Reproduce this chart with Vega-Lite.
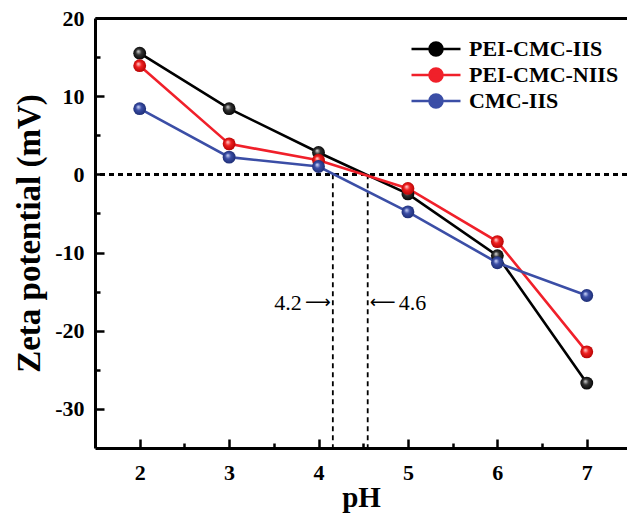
{
  "$schema": "https://vega.github.io/schema/vega-lite/v6.json",
  "width": 532,
  "height": 430,
  "autosize": "none",
  "padding": {"left": 95, "top": 18, "right": 0, "bottom": 69},
  "background": "white",
  "config": {
    "view": {"stroke": null},
    "font": "Liberation Serif",
    "axis": {"grid": false, "domainColor": "black", "labelColor": "black", "titleColor": "black"}
  },
  "datasets": {
    "zeta": [
      {"pH": 2, "zeta": 15.5, "sample": "PEI-CMC-IIS"},
      {"pH": 3, "zeta": 8.4, "sample": "PEI-CMC-IIS"},
      {"pH": 4, "zeta": 2.8, "sample": "PEI-CMC-IIS"},
      {"pH": 5, "zeta": -2.5, "sample": "PEI-CMC-IIS"},
      {"pH": 6, "zeta": -10.4, "sample": "PEI-CMC-IIS"},
      {"pH": 7, "zeta": -26.7, "sample": "PEI-CMC-IIS"},
      {"pH": 2, "zeta": 13.9, "sample": "PEI-CMC-NIIS"},
      {"pH": 3, "zeta": 3.9, "sample": "PEI-CMC-NIIS"},
      {"pH": 4, "zeta": 1.8, "sample": "PEI-CMC-NIIS"},
      {"pH": 5, "zeta": -1.8, "sample": "PEI-CMC-NIIS"},
      {"pH": 6, "zeta": -8.6, "sample": "PEI-CMC-NIIS"},
      {"pH": 7, "zeta": -22.7, "sample": "PEI-CMC-NIIS"},
      {"pH": 2, "zeta": 8.4, "sample": "CMC-IIS"},
      {"pH": 3, "zeta": 2.2, "sample": "CMC-IIS"},
      {"pH": 4, "zeta": 1.0, "sample": "CMC-IIS"},
      {"pH": 5, "zeta": -4.8, "sample": "CMC-IIS"},
      {"pH": 6, "zeta": -11.3, "sample": "CMC-IIS"},
      {"pH": 7, "zeta": -15.5, "sample": "CMC-IIS"}
    ],
    "iep": [
      {"pH": 4.16, "label": "4.2", "arrow": "\u27f6", "side": "left"},
      {"pH": 4.55, "label": "4.6", "arrow": "\u27f5", "side": "right"}
    ]
  },
  "layer": [
    {
      "data": {"name": "iep"},
      "mark": {"type": "rule", "strokeDash": [5, 4], "strokeWidth": 1.8, "color": "black"},
      "encoding": {
        "x": {"field": "pH", "type": "quantitative", "scale": {"domain": [1.5, 7.45], "nice": false, "zero": false},
              "axis": {"orient": "top", "ticks": false, "labels": false, "title": null, "domainWidth": 3}},
        "y": {"datum": 0, "type": "quantitative", "scale": {"domain": [-35, 20], "nice": false}, "axis": null},
        "y2": {"datum": -35}
      }
    },
    {
      "data": {"name": "zeta"},
      "mark": {"type": "rule", "strokeDash": [5, 4], "strokeWidth": 1.8, "color": "black"},
      "encoding": {
        "y": {"datum": 0, "type": "quantitative", "axis": null}
      }
    },
    {
      "data": {"name": "iep"},
      "transform": [{"filter": "datum.side === 'left'"}],
      "mark": {"type": "text", "align": "right", "baseline": "middle", "dx": -31, "fontSize": 22, "font": "Liberation Serif"},
      "encoding": {
        "x": {"field": "pH", "type": "quantitative", "axis": null},
        "y": {"datum": -16.4, "type": "quantitative", "axis": null},
        "text": {"field": "label"}
      }
    },
    {
      "data": {"name": "iep"},
      "transform": [{"filter": "datum.side === 'left'"}],
      "mark": {"type": "text", "align": "right", "baseline": "middle", "dx": -2, "dy": 0, "fontSize": 18, "font": "DejaVu Sans"},
      "encoding": {
        "x": {"field": "pH", "type": "quantitative", "axis": null},
        "y": {"datum": -16.4, "type": "quantitative", "axis": null},
        "text": {"field": "arrow"}
      }
    },
    {
      "data": {"name": "iep"},
      "transform": [{"filter": "datum.side === 'right'"}],
      "mark": {"type": "text", "align": "left", "baseline": "middle", "dx": 31, "fontSize": 22, "font": "Liberation Serif"},
      "encoding": {
        "x": {"field": "pH", "type": "quantitative", "axis": null},
        "y": {"datum": -16.4, "type": "quantitative", "axis": null},
        "text": {"field": "label"}
      }
    },
    {
      "data": {"name": "iep"},
      "transform": [{"filter": "datum.side === 'right'"}],
      "mark": {"type": "text", "align": "left", "baseline": "middle", "dx": 2, "dy": 0, "fontSize": 18, "font": "DejaVu Sans"},
      "encoding": {
        "x": {"field": "pH", "type": "quantitative", "axis": null},
        "y": {"datum": -16.4, "type": "quantitative", "axis": null},
        "text": {"field": "arrow"}
      }
    },
    {
      "data": {"name": "zeta"},
      "mark": {"type": "line", "strokeWidth": 2.6},
      "encoding": {
        "x": {"field": "pH", "type": "quantitative",
              "axis": {"orient": "bottom", "values": [2, 3, 4, 5, 6, 7], "ticks": true, "tickSize": -9, "tickWidth": 2.5, "tickColor": "black", "domainWidth": 3,
                       "labelFont": "Liberation Serif", "labelFontWeight": "bold", "labelFontSize": 22, "labelPadding": 23,
                       "title": "pH", "titleFont": "Liberation Serif", "titleFontWeight": "bold", "titleFontSize": 29, "titlePadding": 0}},
        "y": {"field": "zeta", "type": "quantitative",
              "axis": {"orient": "left", "values": [-30, -20, -10, 0, 10, 20], "ticks": true, "tickSize": -9, "tickWidth": 2.5, "tickColor": "black", "domainWidth": 3,
                       "labelExpr": "datum.value < 0 ? '-' + abs(datum.value) : '' + datum.value",
                       "labelFont": "Liberation Serif", "labelFontWeight": "bold", "labelFontSize": 22, "labelPadding": 20,
                       "title": "Zeta potential (mV)", "titleFont": "Liberation Serif", "titleFontWeight": "bold", "titleFontSize": 33, "titlePadding": 8}},
        "color": {"field": "sample", "type": "nominal",
                  "scale": {"domain": ["PEI-CMC-IIS", "PEI-CMC-NIIS", "CMC-IIS"], "range": ["#000000", "#f0202a", "#3b4ea6"]},
                  "legend": {"orient": "none", "legendX": 327, "legendY": 17, "title": null, "padding": 0,
                             "symbolType": "M-2,0L2,0M-0.53,0A0.53,0.53,0,1,1,0.53,0A0.53,0.53,0,1,1,-0.53,0Z",
                             "symbolSize": 600, "symbolStrokeWidth": 2.6, "labelFont": "Liberation Serif", "labelFontWeight": "bold",
                             "labelFontSize": 22, "labelColor": "black", "labelOffset": 19, "rowPadding": 0,
                             "encode": {"symbols": {"update": {"fill": {"scale": "color", "field": "value"}, "stroke": {"scale": "color", "field": "value"}}}}},
                  "sort": null},
        "detail": {"field": "sample"}
      }
    },
    {
      "data": {"name": "zeta"},
      "transform": [{"filter": "datum.sample === 'PEI-CMC-IIS'"}],
      "mark": {"type": "point", "filled": true, "size": 165, "opacity": 1, "shape": "circle",
               "fill": {"gradient": "radial", "x1": 0.38, "y1": 0.35, "r1": 0, "x2": 0.5, "y2": 0.5, "r2": 0.55,
                        "stops": [{"offset": 0, "color": "#e0e0e0"}, {"offset": 0.4, "color": "#333333"}, {"offset": 1, "color": "#000000"}]}},
      "encoding": {
        "x": {"field": "pH", "type": "quantitative",
              "axis": {"orient": "bottom", "values": [2.5, 3.5, 4.5, 5.5, 6.5], "ticks": true, "tickSize": -5, "tickWidth": 2.5, "tickColor": "black", "domain": false, "labels": false, "title": null}},
        "y": {"field": "zeta", "type": "quantitative",
              "axis": {"orient": "left", "values": [15, 5, -5, -15, -25], "ticks": true, "tickSize": -5, "tickWidth": 2.5, "tickColor": "black", "domain": false, "labels": false, "title": null}}
      }
    },
    {
      "data": {"name": "zeta"},
      "transform": [{"filter": "datum.sample === 'PEI-CMC-NIIS'"}],
      "mark": {"type": "point", "filled": true, "size": 165, "opacity": 1, "shape": "circle",
               "fill": {"gradient": "radial", "x1": 0.38, "y1": 0.35, "r1": 0, "x2": 0.5, "y2": 0.5, "r2": 0.55,
                        "stops": [{"offset": 0, "color": "#ffe0e0"}, {"offset": 0.4, "color": "#f02020"}, {"offset": 1, "color": "#b00000"}]}},
      "encoding": {
        "x": {"field": "pH", "type": "quantitative", "axis": null},
        "y": {"field": "zeta", "type": "quantitative", "axis": null}
      }
    },
    {
      "data": {"name": "zeta"},
      "transform": [{"filter": "datum.sample === 'CMC-IIS'"}],
      "mark": {"type": "point", "filled": true, "size": 165, "opacity": 1, "shape": "circle",
               "fill": {"gradient": "radial", "x1": 0.38, "y1": 0.35, "r1": 0, "x2": 0.5, "y2": 0.5, "r2": 0.55,
                        "stops": [{"offset": 0, "color": "#d8e0ff"}, {"offset": 0.4, "color": "#3b4ea6"}, {"offset": 1, "color": "#1a2a70"}]}},
      "encoding": {
        "x": {"field": "pH", "type": "quantitative", "axis": null},
        "y": {"field": "zeta", "type": "quantitative", "axis": null}
      }
    }
  ],
  "resolve": {"axis": {"x": "independent", "y": "independent"}}
}
